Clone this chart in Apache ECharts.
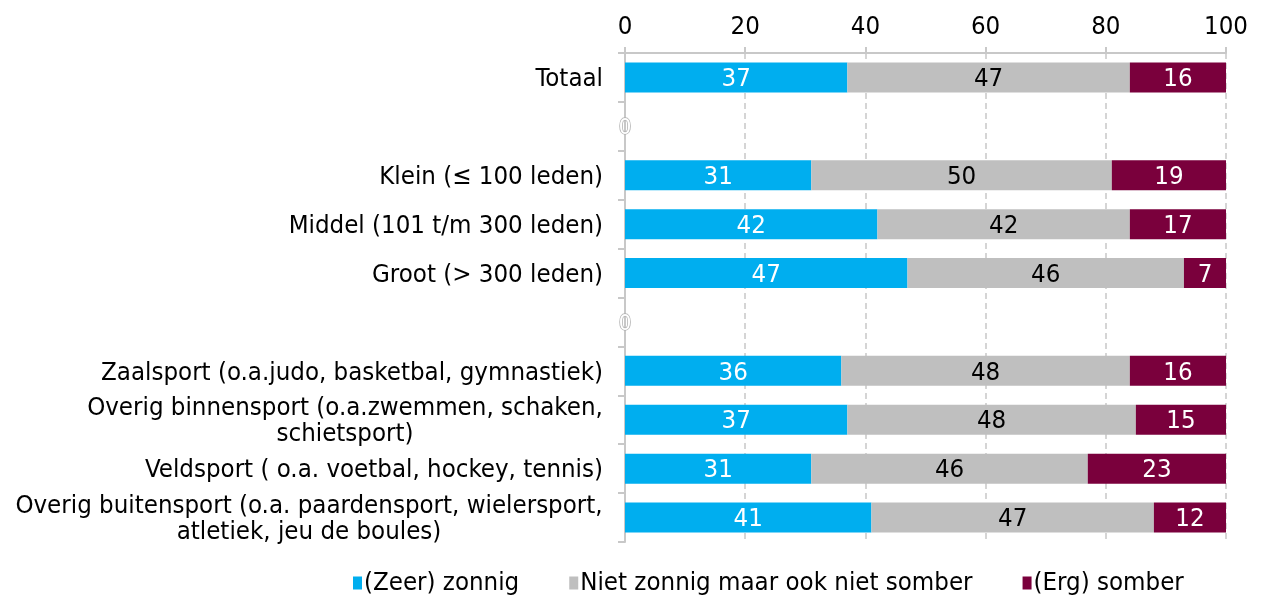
<!DOCTYPE html>
<html>
<head>
<meta charset="utf-8">
<script src="https://cdn.jsdelivr.net/npm/echarts@6/dist/echarts.min.js"></script>
<style>
  html, body { margin: 0; padding: 0; background: #fff; }
  #chart { width: 1261px; height: 598px; }
</style>
</head>
<body>
<div id="chart"></div>
<script>
  const FONT = 'DejaVu Sans Condensed'
  const FS = 25.6

  const categories = [
    'Totaal',
    '',
    'Klein (≤ 100 leden)',
    'Middel (101 t/m 300 leden)',
    'Groot (> 300 leden)',
    ' ',
    'Zaalsport (o.a.judo, basketbal, gymnastiek)',
    'Overig binnensport (o.a.zwemmen, schaken,\nschietsport)',
    'Veldsport ( o.a. voetbal, hockey, tennis)',
    'Overig buitensport (o.a. paardensport, wielersport,\natletiek, jeu de boules)'
  ]
  const zonnig = [37, 0, 31, 42, 47, 0, 36, 37, 31, 41]
  const neutraal = [47, null, 50, 42, 46, null, 48, 48, 46, 47]
  const somber = [16, null, 19, 17, 7, null, 16, 15, 23, 12]
  const xTicks = [0, 20, 40, 60, 80, 100]

  // measure text so multi-line labels can be centred within their block
  const ctx = document.createElement('canvas').getContext('2d')
  ctx.font = FS + 'px "' + FONT + '"'
  const blockWidth = (value) => Math.ceil(Math.max(...value.split('\n').map(l => ctx.measureText(l).width)))
  const labelFormatter = (value) => {
    const lines = value.split('\n')
    if (lines.length === 1) return value
    const w = blockWidth(value)
    return lines.map(l => '{c' + w + '|' + l + '}').join('\n')
  }
  const rich = {}
  categories.forEach(c => {
    if (c.indexOf('\n') >= 0) {
      const w = blockWidth(c)
      rich['c' + w] = { width: w, align: 'center', fontFamily: FONT, fontSize: FS, color: '#000', lineHeight: 26 }
    }
  })

  const chart = echarts.init(document.getElementById('chart'), null, { renderer: 'canvas' })

  const barLabel = (color) => ({
    show: true,
    position: 'inside',
    offset: [0, 2],
    color: color,
    fontFamily: FONT,
    fontSize: FS
  })

  const option = {
    animation: false,
    grid: { left: 625, right: 35, top: 53, bottom: 56 },
    legend: {
      bottom: -3,
      left: 348,
      itemWidth: 9,
      itemHeight: 13,
      itemGap: 50,
      icon: 'rect',
      textStyle: { fontFamily: FONT, fontSize: FS, color: '#000', padding: [0, 0, 0, -3] },
      data: ['(Zeer) zonnig', 'Niet zonnig maar ook niet somber', '(Erg) somber']
    },
    xAxis: {
      type: 'value',
      position: 'top',
      min: xTicks[0],
      max: xTicks[xTicks.length - 1],
      interval: 20,
      axisLine: { show: true, lineStyle: { color: '#c8c8c8', width: 2 } },
      axisTick: { show: true, length: 6, lineStyle: { color: '#c8c8c8', width: 2 } },
      axisLabel: { fontFamily: FONT, fontSize: FS, color: '#000', margin: 13 },
      splitLine: { show: true, lineStyle: { color: '#c8c8c8', type: [6, 4], width: 1.5 } }
    },
    yAxis: {
      type: 'category',
      inverse: true,
      data: categories,
      axisLine: { show: true, lineStyle: { color: '#c8c8c8', width: 2 } },
      axisTick: { show: true, length: 7, lineStyle: { color: '#c8c8c8', width: 2 } },
      axisLabel: {
        fontFamily: FONT, fontSize: FS, color: '#000', margin: 22, lineHeight: 26,
        padding: [4, 0, 0, 0],
        formatter: labelFormatter, rich: rich
      }
    },
    series: [
      {
        name: '(Zeer) zonnig', type: 'bar', stack: 'a', barWidth: 30,
        // empty separator rows show an outlined "0", like the original
        data: zonnig.map(v => v === 0
          ? { value: 0, label: { color: '#fff', textBorderColor: '#b0b0b0', textBorderWidth: 1.5, fontSize: 22 } }
          : v),
        itemStyle: { color: '#00AEEF' },
        label: barLabel('#fff')
      },
      {
        name: 'Niet zonnig maar ook niet somber', type: 'bar', stack: 'a', data: neutraal, barWidth: 30,
        itemStyle: { color: '#BFBFBF' },
        label: barLabel('#000')
      },
      {
        name: '(Erg) somber', type: 'bar', stack: 'a', data: somber, barWidth: 30,
        itemStyle: { color: '#7A003C' },
        label: barLabel('#fff')
      }
    ]
  }

  chart.setOption(option)
</script>
</body>
</html>
